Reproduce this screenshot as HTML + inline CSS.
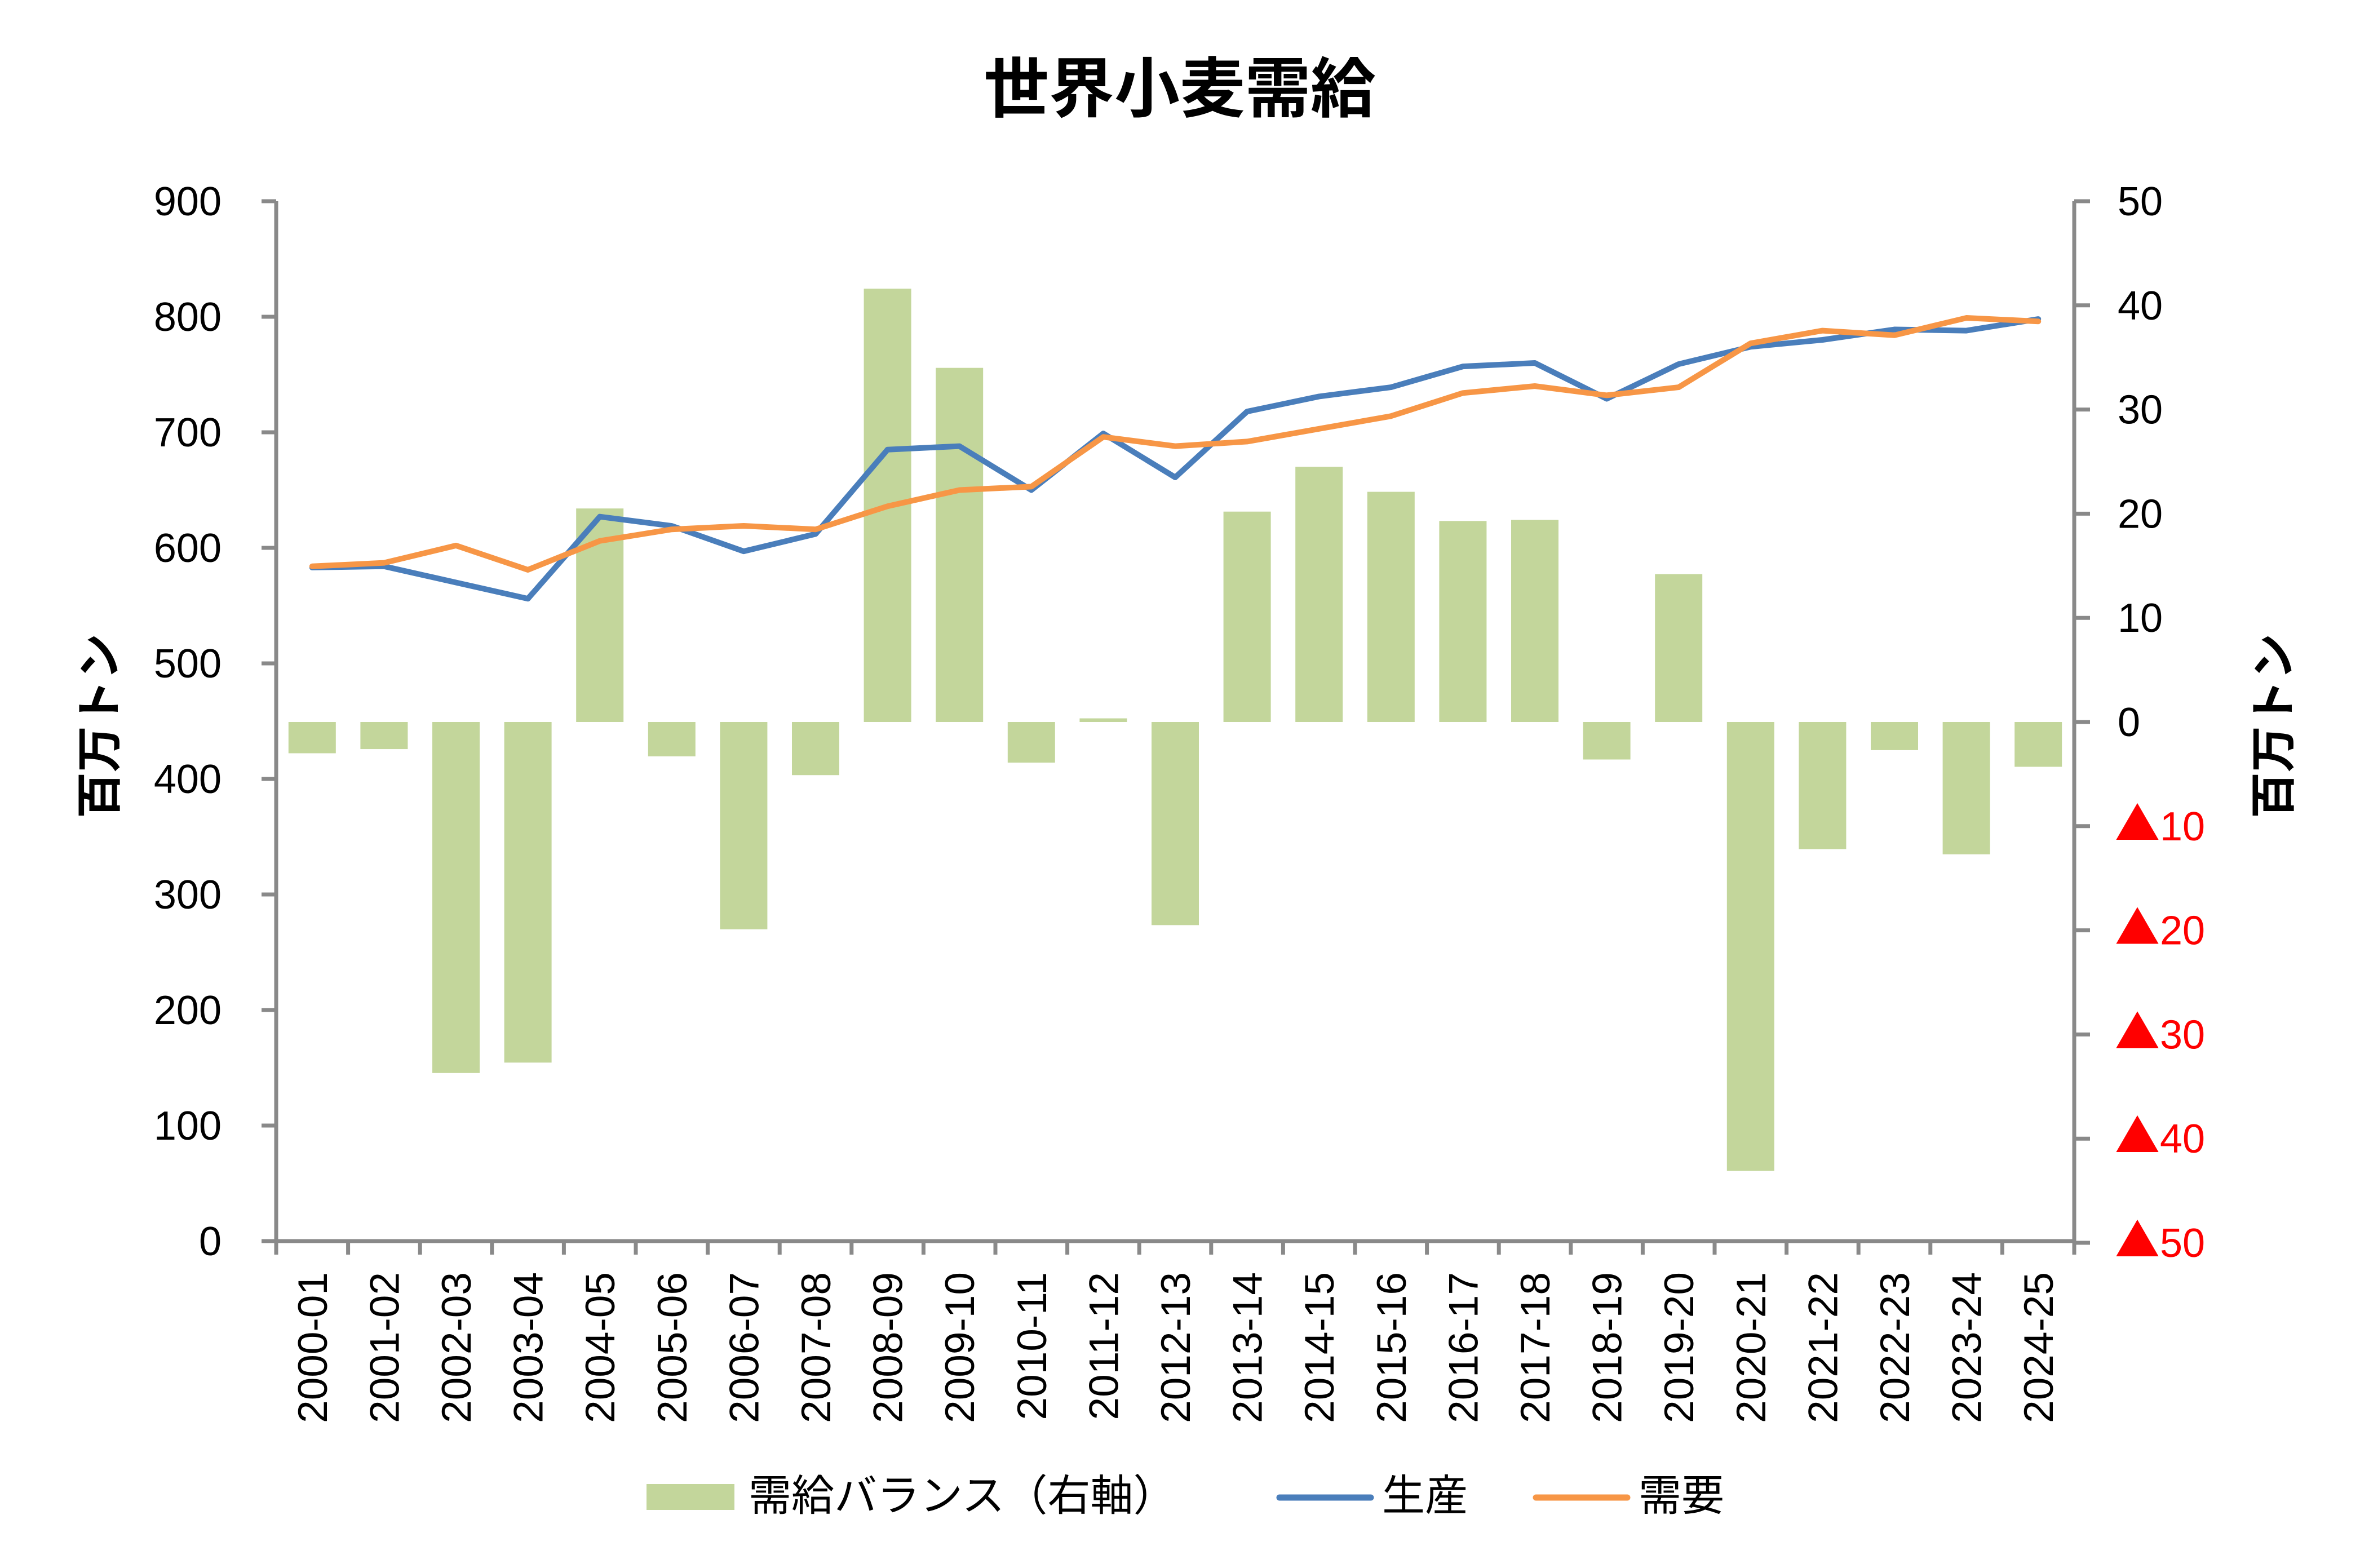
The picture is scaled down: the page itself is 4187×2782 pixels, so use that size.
<!DOCTYPE html>
<html><head><meta charset="utf-8"><style>html,body{margin:0;padding:0;background:#fff}svg{display:block}</style></head>
<body>
<svg xmlns="http://www.w3.org/2000/svg" width="4187" height="2782" viewBox="0 0 4187 2782" font-family="'Liberation Sans','Noto Sans CJK JP',sans-serif">
<rect width="4187" height="2782" fill="#fff"/>
<text x="2093" y="198" font-size="116" font-weight="bold" text-anchor="middle" font-family="'Noto Sans CJK JP',sans-serif">世界小麦需給</text>
<g id="bars" fill="#c3d69b"></g>
<g id="axes" stroke="#898989" stroke-width="7" fill="none"></g>
<polyline id="prod" fill="none" stroke="#4a7ebb" stroke-width="10" stroke-linejoin="round" stroke-linecap="round"/>
<polyline id="dem" fill="none" stroke="#f79646" stroke-width="10" stroke-linejoin="round" stroke-linecap="round"/>
<g id="ly" font-size="72" text-anchor="end"></g>
<g id="ry" font-size="72"></g>
<g id="xl" font-size="73"></g>
<text transform="translate(205,1288) rotate(-90)" font-size="82" font-weight="bold" text-anchor="middle" font-family="'Noto Sans CJK JP',sans-serif">百万トン</text>
<text transform="translate(4062,1288) rotate(-90)" font-size="82" font-weight="bold" text-anchor="middle" font-family="'Noto Sans CJK JP',sans-serif">百万トン</text>
<rect x="1147" y="2633" width="156" height="46" fill="#c3d69b"/>
<text x="1328" y="2680" font-size="76" font-family="'Noto Sans CJK JP',sans-serif">需給バランス（右軸）</text>
<line x1="2270" y1="2657" x2="2432" y2="2657" stroke="#4a7ebb" stroke-width="11" stroke-linecap="round"/>
<text x="2452" y="2680" font-size="76" font-family="'Noto Sans CJK JP',sans-serif">生産</text>
<line x1="2725" y1="2657" x2="2887" y2="2657" stroke="#f79646" stroke-width="11" stroke-linecap="round"/>
<text x="2907" y="2680" font-size="76" font-family="'Noto Sans CJK JP',sans-serif">需要</text>
<script>
var NS="http://www.w3.org/2000/svg";
function el(t,a,p,txt){var e=document.createElementNS(NS,t);for(var k in a)e.setAttribute(k,a[k]);if(txt!=null)e.textContent=txt;(typeof p=='string'?document.getElementById(p):p).appendChild(e);return e;}
var L=490,R=3680,Y0=2202,Y9=357,cw=(R-L)/25;
function ly(v){return Y0-(Y0-Y9)*v/900;}
var Z=1281;function ry(v){return Z-v*(Z-Y9)/50;}
var prod=[583,584,570,556,627,619,597,612,685,688,650,699,661,718,731,739,757,760,729,759,774,780,789,788,798];
var dem=[584,587,602,581,606,616,619,616,636,650,653,696,688,692,703,714,734,740,732,739,777,788,784,799,796];
var bal=[-3,-2.6,-33.7,-32.7,20.5,-3.3,-19.9,-5.1,41.6,34.0,-3.9,0.35,-19.5,20.2,24.5,22.1,19.3,19.4,-3.6,14.2,-43.1,-12.2,-2.7,-12.7,-4.3];
for(var i=0;i<25;i++){var cx=L+cw*(i+.5);var y=ry(bal[i]);el('rect',{x:cx-42,y:Math.min(y,Z),width:84,height:Math.max(Math.abs(y-Z),5)},'bars');
el('text',{transform:'translate('+(cx+26)+',2257) rotate(-90)','text-anchor':'end'},'xl',(2000+i)+'-'+String((i+1)%100).padStart(2,'0'));}
var p1='',p2='';for(var i=0;i<25;i++){var cx=L+cw*(i+.5);p1+=cx+','+ly(prod[i])+' ';p2+=cx+','+ly(dem[i])+' ';}
document.getElementById('prod').setAttribute('points',p1);document.getElementById('dem').setAttribute('points',p2);
el('line',{x1:L,y1:Y9,x2:L,y2:Y0+4},'axes');el('line',{x1:R,y1:Y9,x2:R,y2:Y0+4},'axes');el('line',{x1:L,y1:Y0,x2:R,y2:Y0},'axes');
for(var v=0;v<=900;v+=100){var y=ly(v);el('line',{x1:L-26,y1:y,x2:L,y2:y},'axes');el('text',{x:393,y:y+25},'ly',v);}
for(var v=-50;v<=50;v+=10){var y=ry(v);el('line',{x1:R,y1:y,x2:R+28,y2:y},'axes');
if(v>=0)el('text',{x:3757,y:y+25},'ry',v);else{var t=el('text',{x:3752,y:y+25,fill:'#ff0000'},'ry');
el('tspan',{'font-family':"'Noto Sans CJK JP',sans-serif",'font-size':'80'},t,'▲');el('tspan',{},t,String(-v));}}
for(var i=0;i<=25;i++){var x=L+cw*i;el('line',{x1:x,y1:Y0,x2:x,y2:Y0+24},'axes');}
</script>
</svg>
</body></html>
